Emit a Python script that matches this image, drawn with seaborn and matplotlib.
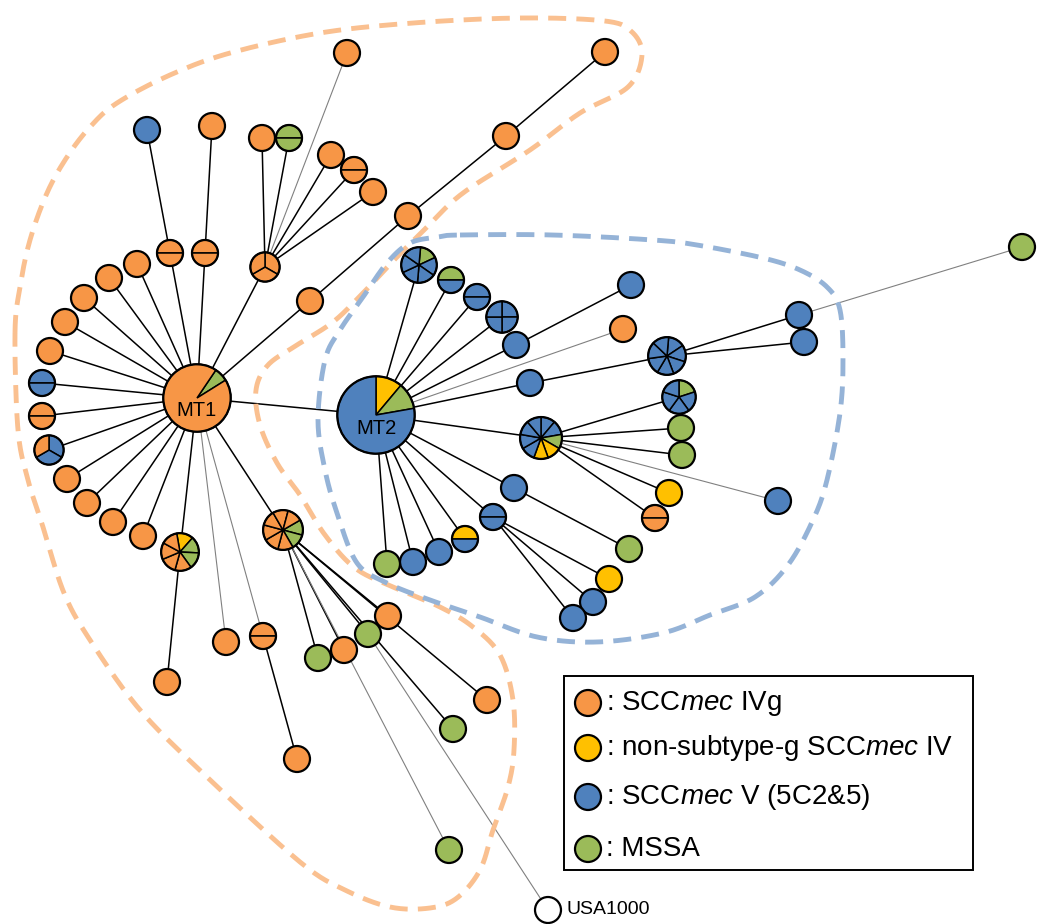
import numpy as np
import pandas as pd
import matplotlib
matplotlib.use("Agg")
import matplotlib.pyplot as plt
from matplotlib.patches import Wedge, Circle, Rectangle
from matplotlib.collections import LineCollection
import seaborn as sns

# ---------------------------------------------------------------------------
# Minimum spanning tree of MLVA types (one node per type)
# isolate composition codes: O = SCCmec IVg, Y = non-subtype-g SCCmec IV,
# B = SCCmec V (5C2&5), G = MSSA, R = reference strain
# ---------------------------------------------------------------------------
category_codes = ["O", "Y", "B", "G"]
category_labels = [r": SCC$\mathit{mec}$ IVg",
                   r": non-subtype-g SCC$\mathit{mec}$ IV",
                   r": SCC$\mathit{mec}$ V (5C2&5)",
                   ": MSSA"]

node_labels = {0: "MT1", 1: "MT2", 42: "USA1000"}

# tree layout (x, y)
node_x = [197, 376, 170, 147, 205, 212, 265, 262, 289, 347, 331, 354, 373, 310, 408, 506, 605,
          137, 109, 84, 65, 50, 42, 42, 49, 67, 87, 113, 143, 180, 167, 226, 263, 297,
          283, 318, 344, 368, 388, 487, 453, 449, 548,
          419, 451, 477, 502, 516, 631, 623, 530, 667, 799, 804, 1022,
          541, 679, 681, 682, 778, 669, 655, 514, 629, 493, 609, 593, 573, 465, 439, 413, 387]
node_y = [398, 415, 253, 130, 253, 126, 267, 138, 138, 53, 155, 170, 192, 301, 216, 136, 52,
          264, 278, 298, 322, 351, 383, 416, 450, 479, 503, 522, 536, 552, 682, 642, 636, 759,
          530, 658, 650, 634, 616, 700, 729, 850, 910,
          265, 280, 297, 317, 345, 285, 329, 383, 356, 315, 342, 247,
          438, 397, 428, 455, 501, 493, 518, 488, 549, 517, 579, 602, 618, 539, 552, 562, 564]

node_isolates = ["G" + "O" * 14, "YYGG" + "B" * 14,
                 "OO", "B", "OO", "O", "OOO", "O", "GG", "O", "O", "OO", "O",
                 "O", "O", "O", "O",
                 "O", "O", "O", "O", "O", "BB", "OO", "BBO", "O", "O", "O", "O",
                 "YGGOOOO", "O", "O", "OO", "O",
                 "GGOOOOOO", "G", "O", "G", "O", "O", "G", "G", "R",
                 "GBBBBB", "GB", "BB", "BBBB", "B", "B", "O", "B", "BBBBBBB", "B", "B", "G",
                 "BBGYYBBBB", "GBBBB", "G", "G", "B", "Y", "OO",
                 "B", "G", "BB", "Y", "B", "B", "YB", "B", "B", "G"]

node_parent = ([-1, 0, 0, 2, 0, 4, 0, 6, 6, 6, 6, 6, 6, 0, 13, 14, 15]
               + [0] * 12
               + [0, 29, 0, 0, 32, 0]
               + [34] * 7 + [37]
               + [1, 1, 1, 1, 1, 47, 1, 1, 50, 51, 51, 52, 1]
               + [55] * 6
               + [1, 62, 1, 64, 64, 64, 1, 1, 1, 1])

# links with a larger allelic distance (drawn thin and grey)
distant_links = [9, 31, 32, 41, 42, 49, 54, 59]

# ---------------------------------------------------------------------------
palette = {"O": "#F79646", "Y": "#FFC000", "B": "#4F81BD", "G": "#9BBB59", "R": "#FFFFFF"}
hub_nodes = [0, 1]                      # pies drawn by group, not per isolate
pie_start = {0: 56, 24: 90, 29: 100, 34: 30, 43: 85, 51: 85, 55: 90, 56: 90}

orange_hull_x = [15, 20, 30, 47, 67, 90, 117, 170, 230, 320, 413, 520, 605, 632, 642, 628, 580,
                 530, 463, 427, 397, 363, 333, 297, 268, 256, 260, 277, 300, 325, 355, 393,
                 440, 473, 500, 513, 514, 508, 493, 480, 457, 430, 390, 345, 300, 207, 140,
                 90, 64, 43, 28, 18]
orange_hull_y = [333, 287, 240, 193, 157, 127, 103, 75, 53, 33, 23, 18, 21, 32, 55, 87, 113,
                 150, 193, 227, 257, 293, 322, 345, 365, 390, 425, 463, 495, 535, 568, 587,
                 607, 627, 655, 700, 750, 787, 830, 870, 898, 908, 907, 890, 862, 777, 710,
                 640, 593, 527, 480, 430]
blue_hull_x = [460, 553, 653, 697, 763, 800, 827, 840, 843, 840, 827, 813, 788, 755, 710, 663,
               597, 537, 480, 430, 387, 357, 337, 325, 318, 325, 340, 363, 387, 410, 438]
blue_hull_y = [235, 235, 240, 245, 258, 270, 287, 310, 360, 413, 480, 520, 565, 597, 615, 633,
               642, 637, 617, 600, 583, 563, 513, 470, 420, 360, 330, 297, 263, 243, 237]


def node_radius(n):
    if n >= 10:
        return 10 + 1.65 * n
    if n <= 2:
        return 14.0
    return 12.5 + 1.05 * n


def closed_spline(px, py, per=16):
    P = np.column_stack([px, py]).astype(float)
    n = len(P)
    t = np.linspace(0, 1, per, endpoint=False)[:, None]
    out = []
    for i in range(n):
        p0, p1, p2, p3 = P[i - 1], P[i], P[(i + 1) % n], P[(i + 2) % n]
        out.append(0.5 * (2 * p1 + (-p0 + p2) * t + (2 * p0 - 5 * p1 + 4 * p2 - p3) * t ** 2
                          + (-p0 + 3 * p1 - 3 * p2 + p3) * t ** 3))
    out.append(P[:1])
    return np.vstack(out)


sns.set_theme(style="white")
plt.rcParams["font.family"] = ["Liberation Sans", "DejaVu Sans"]
plt.rcParams["text.color"] = "black"
plt.rcParams["mathtext.fontset"] = "custom"
plt.rcParams["mathtext.rm"] = "Liberation Sans"
plt.rcParams["mathtext.it"] = "Liberation Sans:italic"

fig = plt.figure(figsize=(10.45, 9.24), dpi=100)
ax = fig.add_axes([0, 0, 1, 1])
ax.set_xlim(0, 1045)
ax.set_ylim(924, 0)
ax.axis("off")

# cluster outlines
for hx, hy, col in [(orange_hull_x, orange_hull_y, "#FAC090"),
                    (blue_hull_x, blue_hull_y, "#95B3D7")]:
    curve = closed_spline(hx, hy)
    ax.plot(curve[:, 0], curve[:, 1], color=col, lw=3.5, dashes=(3.7, 2.1),
            solid_capstyle="butt", dash_capstyle="butt", zorder=2)

# links
near, far = [], []
for i, p in enumerate(node_parent):
    if p < 0:
        continue
    seg = [(node_x[p], node_y[p]), (node_x[i], node_y[i])]
    (far if i in distant_links else near).append(seg)
ax.add_collection(LineCollection(near, colors="black", linewidths=1.1, zorder=1))
ax.add_collection(LineCollection(far, colors="#808080", linewidths=0.8, zorder=1))

# single-isolate nodes
singles = pd.DataFrame({"x": [node_x[i] for i, s in enumerate(node_isolates) if len(s) == 1],
                        "y": [node_y[i] for i, s in enumerate(node_isolates) if len(s) == 1],
                        "cat": [s for s in node_isolates if len(s) == 1]})
sns.scatterplot(data=singles, x="x", y="y", hue="cat", palette=palette, s=350,
                edgecolor="black", linewidth=1.6, legend=False, ax=ax, zorder=3)

# multi-isolate nodes as pies (screen angles go clockwise from start)
for i, comp in enumerate(node_isolates):
    n = len(comp)
    if n == 1:
        continue
    r = node_radius(n) - 1
    cx, cy = node_x[i], node_y[i]
    start = pie_start.get(i, 180 if n == 2 else 90)
    w = 360.0 / n
    if i in hub_nodes:
        groups = []
        for c in comp:
            if groups and groups[-1][0] == c:
                groups[-1][1] += 1
            else:
                groups.append([c, 1])
    else:
        groups = [[c, 1] for c in comp]
    theta = -start
    for c, k in groups:
        ax.add_patch(Wedge((cx, cy), r, theta, theta + w * k, facecolor=palette[c],
                           edgecolor="black", linewidth=1.1, zorder=3))
        theta += w * k
    ax.add_patch(Circle((cx, cy), r, fill=False, edgecolor="black", linewidth=1.6, zorder=4))

# node labels
ax.text(node_x[0], node_y[0] + 13, node_labels[0], ha="center", va="center", fontsize=14.5,
        color="black", zorder=5)
ax.text(node_x[1] + 1, node_y[1] + 14, node_labels[1], ha="center", va="center", fontsize=14.5,
        color="black", zorder=5)
ax.text(node_x[42] + 19, node_y[42], node_labels[42], ha="left", va="center", fontsize=14,
        color="black", zorder=5)

# legend
ax.add_patch(Rectangle((564, 676), 409, 194, facecolor="white", edgecolor="black",
                       linewidth=1.4, zorder=5))
leg_y = [703, 748, 797, 849]
leg = pd.DataFrame({"x": [588] * 4, "y": leg_y, "cat": category_codes})
sns.scatterplot(data=leg, x="x", y="y", hue="cat", palette=palette, s=350,
                edgecolor="black", linewidth=1.6, legend=False, ax=ax, zorder=6)
for yv, lab in zip(leg_y, category_labels):
    ax.text(606, yv, lab, ha="left", va="center", fontsize=20, color="black", zorder=6)

ax.set_xlim(0, 1045)
ax.set_ylim(924, 0)
ax.set_xlabel("")
ax.set_ylabel("")
fig.savefig("out.png", dpi=100, facecolor="white")
